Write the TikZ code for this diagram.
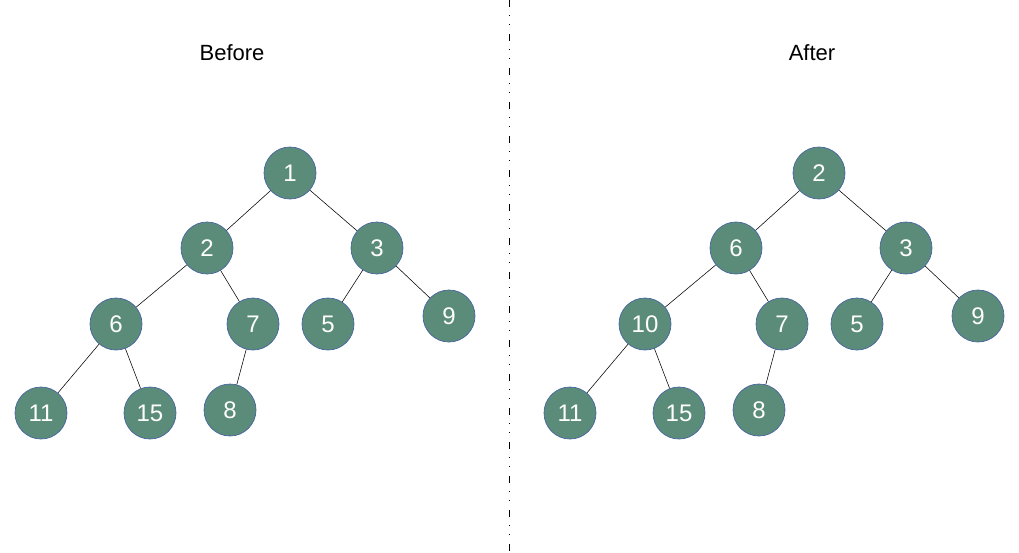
\documentclass[tikz,border=0pt]{standalone}
\usepackage{fontspec}
\setmainfont{Liberation Sans}
\definecolor{heapfill}{RGB}{91,140,122}
\definecolor{heapedge}{RGB}{70,100,160}
\begin{document}
\begin{tikzpicture}[x=1pt,y=-1pt,
  heapnode/.style={circle,minimum size=52pt,inner sep=0pt,fill=heapfill,draw=heapedge,line width=0.7pt,text=white,font=\fontsize{24}{24}\selectfont},
  link/.style={draw=black,line width=0.55pt},
  caption/.style={font=\fontsize{22}{22}\selectfont}]
\useasboundingbox (0,0) rectangle (1019,552);
% divider
\coordinate (top) at (509,0);
\coordinate (bot) at (509,552);
\draw[line width=1pt,dash pattern=on 7pt off 8pt on 1pt off 8pt on 1pt off 9pt] (top) -- (bot);
% captions
\node[caption] (tb) at (232,53) {Before};
\node[caption] (ta) at (812,53) {After};
% tree before
\node[heapnode] (a1) at (290,173) {1};
\node[heapnode] (a2) at (207,248) {2};
\node[heapnode] (a3) at (377,248) {3};
\node[heapnode] (a6) at (116,324) {6};
\node[heapnode] (a7) at (253,324) {7};
\node[heapnode] (a5) at (328,324) {5};
\node[heapnode] (a9) at (449,316) {9};
\node[heapnode] (a11) at (41,413) {11};
\node[heapnode] (a15) at (150,413) {15};
\node[heapnode] (a8) at (230,410) {8};
\foreach \u/\v in {a1/a2,a1/a3,a2/a6,a2/a7,a3/a5,a3/a9,a6/a11,a6/a15,a7/a8}
  \path[link] (\u) -- (\v);
% tree after
\node[heapnode] (b2) at (819,173) {2};
\node[heapnode] (b6) at (736,248) {6};
\node[heapnode] (b3) at (906,248) {3};
\node[heapnode] (b10) at (645,324) {10};
\node[heapnode] (b7) at (782,324) {7};
\node[heapnode] (b5) at (857,324) {5};
\node[heapnode] (b9) at (978,316) {9};
\node[heapnode] (b11) at (570,413) {11};
\node[heapnode] (b15) at (679,413) {15};
\node[heapnode] (b8) at (759,410) {8};
\foreach \u/\v in {b2/b6,b2/b3,b6/b10,b6/b7,b3/b5,b3/b9,b10/b11,b10/b15,b7/b8}
  \path[link] (\u) -- (\v);
\end{tikzpicture}
\end{document}
